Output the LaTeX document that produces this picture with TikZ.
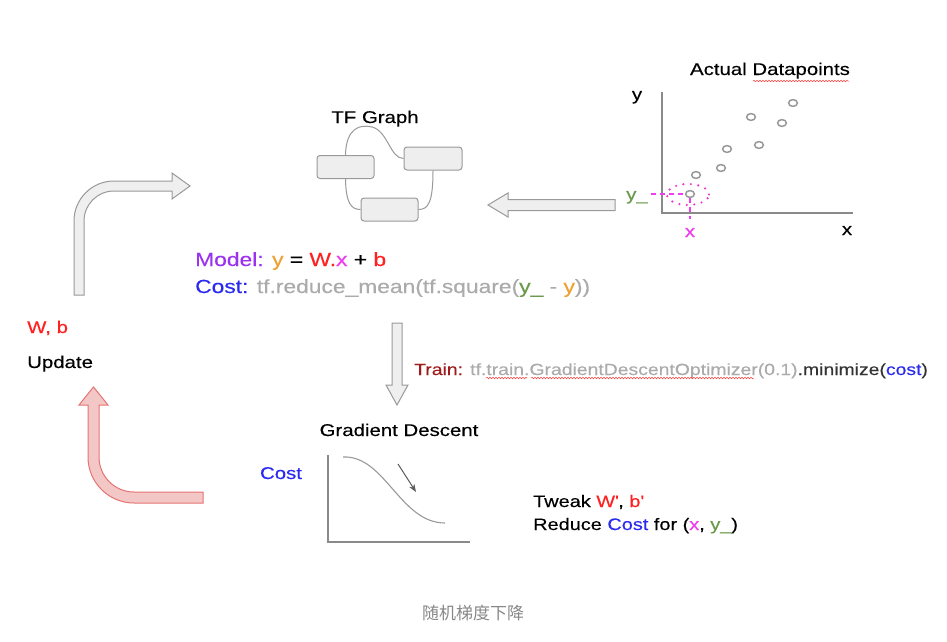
\documentclass[tikz,border=0pt]{standalone}
\usepackage{fontspec}
\setmainfont[FakeStretch=1.2,FakeBold=0.25]{Liberation Sans}
\newfontfamily\cjkfont{Noto Sans CJK SC}
\usetikzlibrary{decorations.pathmorphing,arrows.meta}
\definecolor{cModel}{HTML}{9B32F0}
\definecolor{cY}{HTML}{F0A030}
\definecolor{cW}{HTML}{FF2020}
\definecolor{cX}{HTML}{F03CF0}
\definecolor{cCost}{HTML}{2A2AF0}
\definecolor{cYu}{HTML}{6A9A4A}
\definecolor{cTrain}{HTML}{9E1B1B}
\definecolor{cTF}{HTML}{ABABAB}
\definecolor{cDark}{HTML}{333333}
\definecolor{cLine}{HTML}{999999}
\definecolor{cAxis}{HTML}{8A8A8A}
\definecolor{cBoxFill}{HTML}{EEEEEE}
\definecolor{cArrFill}{HTML}{EFEFEF}
\definecolor{cRedFill}{HTML}{F4C7C7}
\definecolor{cRedLine}{HTML}{E57373}
\definecolor{cCap}{HTML}{888888}
\newcommand\myfs[1]{\fontsize{#1}{#1}\selectfont}
\tikzset{
  txt/.style={inner sep=0pt, anchor=base west, font=\myfs{17}},
  ctxt/.style={inner sep=0pt, anchor=base, font=\myfs{17}},
  tfbox/.style={draw=cLine, fill=cBoxFill, line width=1pt, rounded corners=3pt, minimum width=57pt, minimum height=23pt, inner sep=0pt},
  tfedge/.style={draw=cLine, line width=1pt},
  blockarrow/.style={draw=cLine, fill=cArrFill, line width=1pt, line join=miter},
  redarrow/.style={draw=cRedLine, fill=cRedFill, line width=1pt},
  axis/.style={draw=cAxis, line width=1.1pt},
  dpoint/.style={draw=cLine, line width=1.5pt},
  mag/.style={draw=cX, line width=1.4pt, dash pattern=on 5pt off 4pt},
  spell/.style={draw=red!75, line width=0.5pt, decorate, decoration={snake, amplitude=0.8pt, segment length=3pt}}
}
\begin{document}
\begin{tikzpicture}[x=1pt,y=-1pt]
\useasboundingbox[fill=white] (0,0) rectangle (947,642);

% ---- TF Graph ----
\node[ctxt] (tfg) at (375,123) {TF Graph};
\node[tfbox] (b1) at (345.5,167) {};
\node[tfbox, minimum width=58pt] (b2) at (433,158.5) {};
\node[tfbox] (b3) at (389.5,209.5) {};
\draw[tfedge] (b1.north) .. controls (346,128) and (360,124) .. (372,127) .. controls (388,131) and (390,158.5) .. (b2.west);
\draw[tfedge] (b1.south) .. controls (346,203) and (351,209.5) .. (b3.west);
\draw[tfedge] (b2.south) .. controls (433,203) and (428,209.5) .. (b3.east);

% ---- arrow from datapoints to graph ----
\draw[blockarrow] (615,199.5) -- (508,199.5) -- (508,193) -- (488,205) -- (508,217) -- (508,210.5) -- (615,210.5) -- cycle;

% ---- scatter ----
\node[ctxt] (adp) at (770,75) {Actual Datapoints};
\draw[spell] (753,81) -- (849,81);
\coordinate (org) at (662,213);
\coordinate (ytop) at (662,92);
\coordinate (xend) at (853,213);
\draw[axis] (ytop) -- (org) -- (xend);
\node[ctxt] (ylab) at (637,100) {y};
\node[ctxt] (xlab) at (847,235) {x};
\foreach \p in {(793,103),(751,117),(782,123),(727,149),(759,145),(721,168),(696,175),(690,194)}
  \draw[dpoint] \p ellipse [x radius=4.4pt, y radius=3.4pt];
\draw[draw=cX!85!red, line width=2.4pt, line cap=round, dash pattern=on 0pt off 7.5pt] (688,194.5) ellipse [x radius=21pt, y radius=10.5pt];
\node[txt, text=cYu] (yu) at (626,200) {y\_};
\node[ctxt, text=cX] (xm) at (690,237) {x};
\coordinate (dp) at (690,194);
\draw[mag] (yu.east |- dp) ++(3,0) -- ([xshift=-4pt]dp);
\draw[mag] ([yshift=-4pt]dp) -- ([yshift=9pt]xm.north);

% ---- model / cost ----
\node[txt, font=\myfs{19}] (model) at (195,266) {{\color{cModel}Model:} {\color{cY}y} = {\color{cW}W.}{\color{cX}x} + {\color{cW}b}};
\node[txt, font=\myfs{19}] (cost) at (195,293) {{\color{cCost}Cost:} {\color{cTF}tf.reduce\_mean(tf.square(}{\color{cYu}y\_} {\color{cTF}-} {\color{cY}y}{\color{cTF}))}};

% ---- train ----
\draw[blockarrow] (392,323) -- (402,323) -- (402,385) -- (408,385) -- (397,405) -- (386,385) -- (392,385) -- cycle;
\node[txt, font=\myfs{16.15}] (train) at (414,375) {{\color{cTrain}Train:} {\color{cTF}tf.train.GradientDescentOptimizer(0.1)}{\color{cDark}.minimize(}{\color{cCost}cost}{\color{cDark})}};
\draw[spell] (486,378) -- (527,378);
\draw[spell] (531,378) -- (754,378);

% ---- gradient descent ----
\node[ctxt] (gd) at (399,436) {Gradient Descent};
\node[ctxt, text=cCost] (costl) at (281,479) {Cost};
\coordinate (gorg) at (328,542);
\draw[axis] (328,455) -- (gorg) -- (470,542);
\draw[draw=cLine, line width=1.1pt] (343,457) .. controls (385,455) and (400,523) .. (445,523);
\coordinate (ga1) at (398,464);
\coordinate (ga2) at (416,492);
\draw[draw=cDark!80, line width=1pt, -{Stealth[length=8pt,width=6pt]}] (ga1) -- (ga2);
\node[txt, font=\myfs{16.6}] (tweak) at (533,507) {Tweak {\color{cW}W\textquotesingle}, {\color{cW}b\textquotesingle}};
\node[txt, font=\myfs{16.6}] (reduce) at (533,530) {Reduce {\color{cCost}Cost} for ({\color{cX}x}, {\color{cYu}y\_})};

% ---- update loop ----
\node[txt, text=cW] (wb) at (27,333) {W, b};
\node[txt] (upd) at (27,368) {Update};
\draw[blockarrow] (74,295) -- (74,221) .. controls (74,198.9) and (91.9,181) .. (114,181) -- (172,181) -- (172,173) -- (190,186) -- (172,199) -- (172,191) -- (114,191) .. controls (97.4,191) and (84,204.4) .. (84,221) -- (84,295) -- cycle;
\draw[redarrow] (203,492) -- (134,492) .. controls (114.7,492) and (99,476.3) .. (99,457) -- (99,405) -- (108,405) -- (93.5,387) -- (79,405) -- (88,405) -- (88,457) .. controls (88,482.4) and (108.6,503) .. (134,503) -- (203,503) -- cycle;

% ---- caption ----
\node[inner sep=0pt, anchor=base, font=\cjkfont\fontsize{17}{17}\selectfont, text=cCap] (cap) at (473,619) {随机梯度下降};
\end{tikzpicture}
\end{document}
